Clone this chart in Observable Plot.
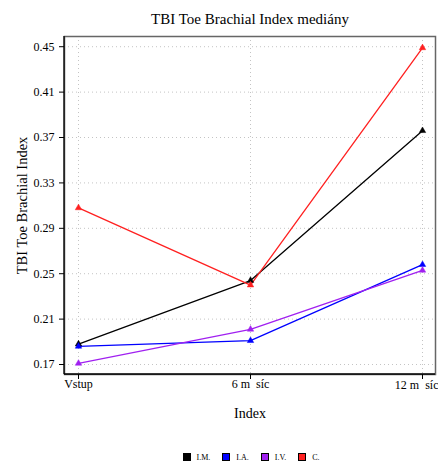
<!DOCTYPE html>
<html><head><meta charset="utf-8">
<script src="https://cdn.jsdelivr.net/npm/d3@7"></script>
<script src="https://cdn.jsdelivr.net/npm/@observablehq/plot@0.6"></script>
<style>
body{margin:0;background:#fff;font-family:"Liberation Serif",serif;}
#legend{display:flex;justify-content:center;align-items:center;height:26px;margin-top:4px;font-size:8px;color:#000;padding-left:64px;width:374px;}
#legend span.item{display:inline-flex;align-items:center;margin:0 6px;}
#legend span.sw{display:inline-block;width:6px;height:6px;border:1px solid #000;margin-right:6px;}
</style></head>
<body>
<div id="chart"></div>
<div id="legend"></div>
<script>
const timepoints = ["Vstup", "6 m  síc", "12 m  síc"];
const seriesNames = ["I.M.", "I.A.", "I.V.", "C."];
const seriesColors = ["#000000", "#0000ff", "#a020f0", "#ff2020"];
const valuesIM = [0.188, 0.244, 0.376];
const valuesIA = [0.186, 0.191, 0.258];
const valuesIV = [0.171, 0.201, 0.253];
const valuesC  = [0.308, 0.240, 0.449];
const yTicks = [0.17, 0.21, 0.25, 0.29, 0.33, 0.37, 0.41, 0.45];
const title = "TBI Toe Brachial Index mediány";
const yLabel = "TBI Toe Brachial Index";
const xLabel = "Index";

const allValues = [valuesIM, valuesIA, valuesIV, valuesC];
const data = [];
seriesNames.forEach((s, i) => timepoints.forEach((t, j) => data.push({series: s, time: t, value: allValues[i][j]})));

const font = "'Liberation Serif', serif";
const chart = Plot.plot({
  width: 438, height: 440,
  marginLeft: 64, marginRight: 3, marginTop: 36, marginBottom: 66,
  style: {fontFamily: font, fontSize: "12px", color: "#000", background: "#fff"},
  x: {type: "point", domain: timepoints, padding: 0.0756},
  y: {domain: [0.1612, 0.459]},
  color: {domain: seriesNames, range: seriesColors},
  marks: [
    Plot.gridY(yTicks, {stroke: "#c4c4c4", strokeOpacity: 1, strokeDasharray: "1,3"}),
    Plot.gridX(timepoints, {stroke: "#c4c4c4", strokeOpacity: 1, strokeDasharray: "1,3"}),
    Plot.frame({stroke: "#666", strokeWidth: 1.5}),
    Plot.axisY(yTicks, {tickFormat: d3.format(".2f"), tickSize: 5, tickPadding: 5, fontSize: 12, label: null}),
    Plot.axisX(timepoints, {tickSize: 5, tickFormat: () => "", label: null}),
    Plot.text(timepoints.slice(0, 2), {x: d => d, frameAnchor: "bottom", dy: 13, fontSize: 12, fill: "#000", text: d => d}),
    Plot.text(timepoints.slice(2), {x: d => d, frameAnchor: "bottom", dy: 14, dx: 16, textAnchor: "end", fontSize: 12, fill: "#000", text: d => d}),
    Plot.text([xLabel], {frameAnchor: "bottom", dy: 43, fontSize: 14, fill: "#000", text: d => d}),
    Plot.text([yLabel], {frameAnchor: "left", dx: -42, rotate: -90, textAnchor: "middle", fontSize: 14.5, fill: "#000", text: d => d}),
    Plot.lineY(data, {x: "time", y: "value", z: "series", stroke: "series", strokeWidth: 1.3}),
    Plot.dot(data, {x: "time", y: "value", fill: "series", stroke: "series", symbol: "triangle", r: 2.4, strokeWidth: 0.5}),
    Plot.text([title], {frameAnchor: "top", dy: -23, fontSize: 15, fill: "#000", text: d => d})
  ]
});
document.getElementById("chart").appendChild(chart);
const svg = d3.select(chart);
svg.append("line").attr("x1", 64).attr("x2", 64).attr("y1", 36).attr("y2", 374).attr("stroke", "#000").attr("stroke-width", 1.3);
svg.append("line").attr("x1", 64).attr("x2", 435).attr("y1", 374).attr("y2", 374).attr("stroke", "#000").attr("stroke-width", 1.3);
svg.selectAll("text").style("font-family", font);

const lg = document.getElementById("legend");
seriesNames.forEach((s, i) => {
  const it = document.createElement("span"); it.className = "item";
  const sw = document.createElement("span"); sw.className = "sw"; sw.style.background = seriesColors[i];
  it.appendChild(sw); it.appendChild(document.createTextNode(s));
  lg.appendChild(it);
});
</script>
</body></html>
